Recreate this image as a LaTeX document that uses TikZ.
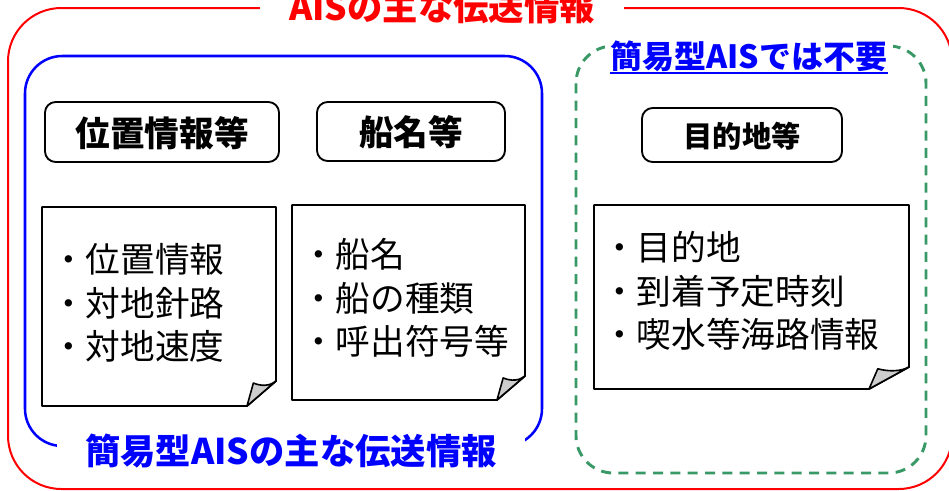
\documentclass[tikz,border=0pt]{standalone}
\usepackage{fontspec}
\setmainfont{Noto Sans CJK JP}
\definecolor{dgreen}{RGB}{56,153,102}
\definecolor{foldgray}{RGB}{205,205,205}
\newcommand{\mynote}[6]{%
  \draw[notebox] (#1,#2) -- (#3,#2) -- (#3,#4-#6) -- (#3-#5,#4) -- (#1,#4) -- cycle;
  \draw[foldbox] (#3-#5,#4) -- (#3-0.78*#5,#4-0.92*#6)
     .. controls (#3-0.5*#5,#4-0.78*#6) and (#3-0.2*#5,#4-0.8*#6) .. (#3,#4-#6) -- cycle;}
\begin{document}
\begin{tikzpicture}[x=0.75pt,y=-0.75pt,
  redbox/.style={draw=red, line width=1.5pt, rounded corners=40pt},
  bluebox/.style={draw=blue, line width=1.9pt, rounded corners=28pt},
  greenbox/.style={draw=dgreen, line width=2.2pt, dash pattern=on 7.5pt off 5.5pt, rounded corners=28pt},
  hdr/.style={draw=black, line width=1.4pt, rounded corners=8pt, fill=white},
  hdrtext/.style={font=\fontsize{26pt}{30pt}\selectfont\bfseries, inner sep=0pt},
  notebox/.style={draw=black, line width=1.4pt, fill=white, line join=round},
  foldbox/.style={draw=black, line width=1.2pt, fill=foldgray, line join=round},
  notetext/.style={font=\fontsize{26pt}{32.5pt}\selectfont, align=left, inner sep=0pt, anchor=west},
  lbl/.style={font=\fontsize{26.5pt}{30pt}\selectfont\bfseries, fill=white, inner ysep=2pt}
]
\useasboundingbox (0,0) rectangle (949,490);
% outer red box
\draw[redbox] (8,8) rectangle (952,489);
\node[lbl, text=red, inner xsep=22pt] (title) at (442,7) {AISの主な伝送情報};
% blue box
\draw[bluebox] (25,56) rectangle (542,446);
\node[lbl, text=blue, inner xsep=21pt] (bluelabel) at (291,451) {簡易型AISの主な伝送情報};
% green dashed box
\draw[greenbox] (576,46) rectangle (926,473);
\node[lbl, text=blue, inner xsep=4pt, font=\fontsize{24pt}{30pt}\selectfont\bfseries] (greenlabel) at (749,56) {簡易型AISでは不要};
\draw[blue, line width=1.5pt] (610,73) -- (888,73);
% headers
\draw[hdr] (45,102) rectangle (279,162);
\node[hdrtext] (h1) at (162,133) {位置情報等};
\draw[hdr] (317,102) rectangle (505,161);
\node[hdrtext] (h2) at (411,132) {船名等};
\draw[hdr] (642,108) rectangle (842,162);
\node[hdrtext, font=\fontsize{22pt}{28pt}\selectfont\bfseries] (h3) at (742,136) {目的地等};
% notes
\mynote{42}{207}{276}{406}{29}{25}
\node[notetext] (n1) at (51,303) {・位置情報\\・対地針路\\・対地速度};
\mynote{292}{205}{525}{400}{28}{24}
\node[notetext] (n2) at (301,298) {・船名\\・船の種類\\・呼出符号等};
\mynote{594}{205}{909}{389}{40}{22}
\node[notetext] (n3) at (602,291) {・目的地\\・到着予定時刻\\・喫水等海路情報};
\end{tikzpicture}
\end{document}
